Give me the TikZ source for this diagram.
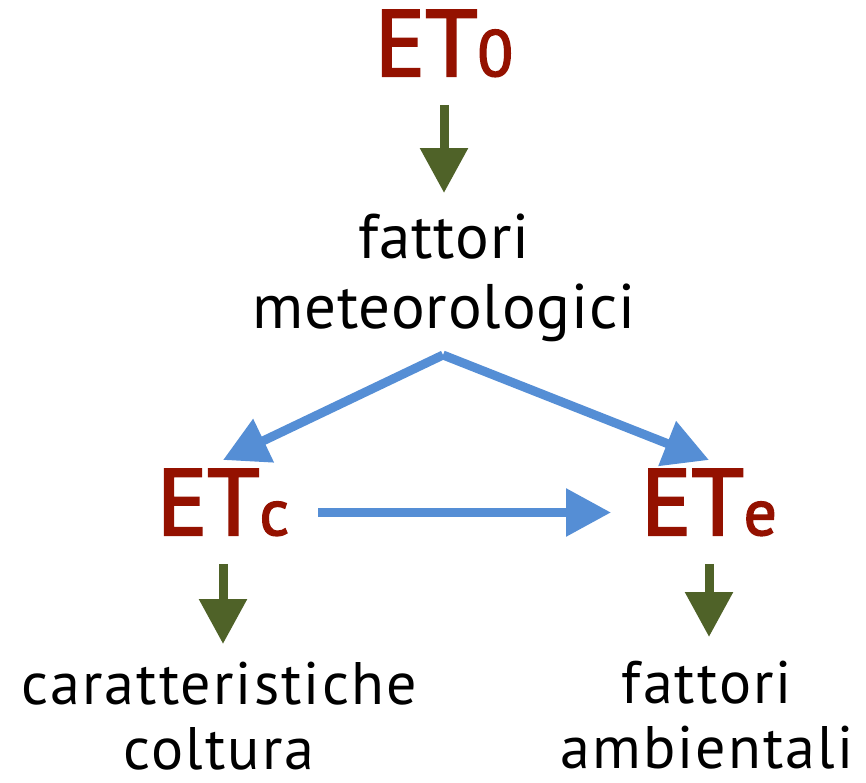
\documentclass[tikz,border=0pt]{standalone}
\usepackage{fontspec}
\setmainfont{PT Sans}
\newfontfamily\lbltopfont{PT Sans}[LetterSpace=1.5]
\newfontfamily\lblbotfont{PT Sans}[LetterSpace=3.5]
\newfontfamily\etfont{PT Sans}[FakeBold=2.5]
\newcommand{\twolines}[2]{\vtop{\halign{\hfil##\hfil\cr #1\cr #2\cr}}}
\usetikzlibrary{arrows.meta}
\definecolor{etred}{HTML}{941100}
\definecolor{arrgreen}{HTML}{4F6228}
\definecolor{arrblue}{HTML}{558ED5}
\begin{document}
\begin{tikzpicture}[x=1pt,y=-1pt,
  etlabel/.style={inner sep=0pt, anchor=base, text=etred, font=\etfont\fontsize{94}{94}\selectfont},
  toplbl/.style={inner sep=0pt, anchor=base, font=\lbltopfont\fontsize{63}{70}\selectfont},
  botlbl/.style={inner sep=0pt, anchor=base, font=\lblbotfont\fontsize{60}{65}\selectfont},
  greenarrow/.style={draw=arrgreen, line width=9pt, -{Triangle[width=46pt,length=45pt]}},
  bluearrow/.style={draw=arrblue, line width=9pt, -{Triangle[width=46pt,length=45pt]}},
]
\useasboundingbox (0,0) rectangle (866,782);
\node[etlabel] (et0) at (444,76) {ET{\fontsize{65}{65}\selectfont 0}};
\node[toplbl] (fm) at (444,258) {\twolines{fattori}{meteorologici}};
\node[etlabel] (etc) at (223,535) {ET{\fontsize{65}{65}\selectfont c}};
\node[etlabel] (ete) at (709,535) {ET{\fontsize{65}{65}\selectfont e}};
\node[botlbl] (cc) at (219,704) {\twolines{caratteristiche}{coltura}};
\node[botlbl] (fa) at (707,703) {\twolines{fattori}{ambientali}};
\coordinate (apex) at (443,355);
\draw[greenarrow] ([yshift=-28pt]et0.south) -- ([yshift=65pt]fm.base -| et0.south);
\draw[bluearrow] (apex) -- ([yshift=9pt]etc.north);
\draw[bluearrow] (apex) -- ([yshift=9pt]ete.north);
\draw[bluearrow] ([xshift=29pt,yshift=-10pt]etc.east) -- ([xshift=-30pt,yshift=-10pt]ete.west);
\draw[greenarrow] ([yshift=-28pt]etc.south) -- ([yshift=60pt]cc.base -| etc.south);
\draw[greenarrow] ([yshift=-28pt]ete.south) -- ([yshift=66pt]fa.base -| ete.south);
\end{tikzpicture}
\end{document}
